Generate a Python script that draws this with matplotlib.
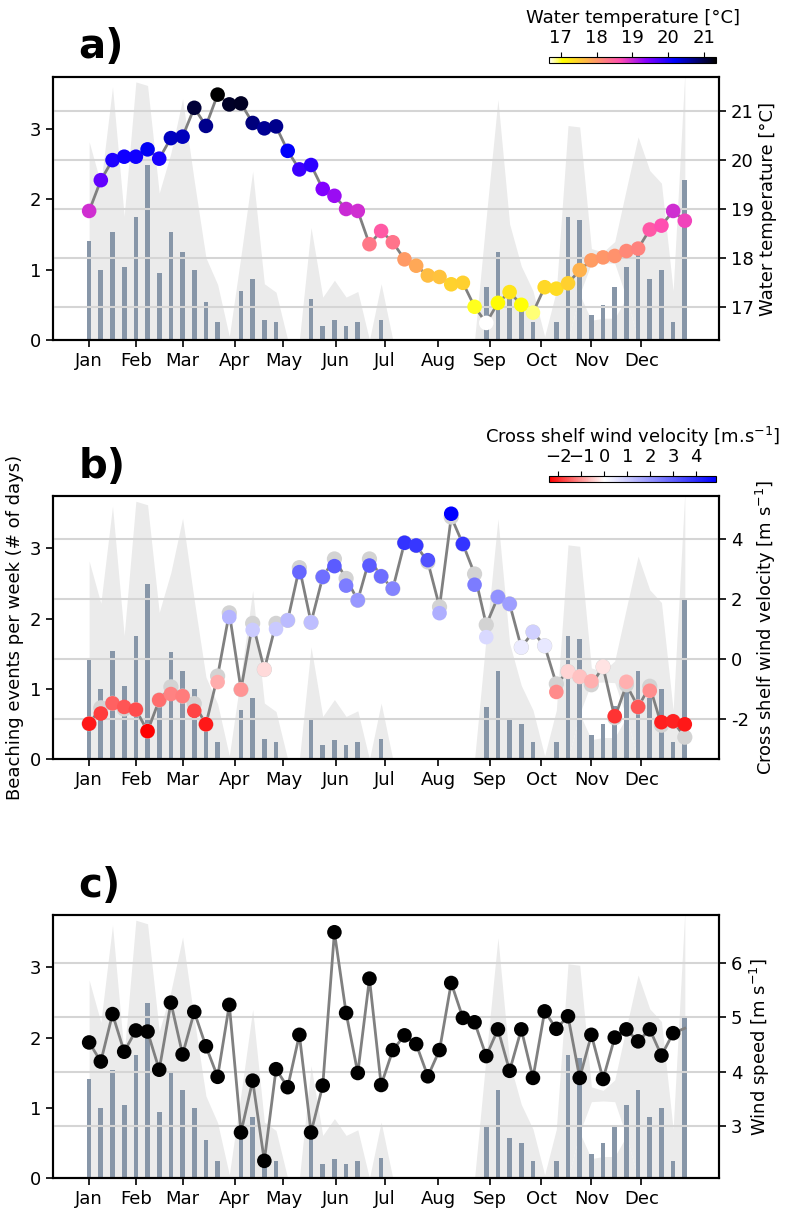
import numpy as np
import matplotlib
matplotlib.use("Agg")
import matplotlib.pyplot as plt
from matplotlib.colors import LinearSegmentedColormap, Normalize

plt.rcParams["font.size"] = 13

weeks = np.arange(1, 53)
month_labels = ["Jan", "Feb", "Mar", "Apr", "May", "Jun",
                "Jul", "Aug", "Sep", "Oct", "Nov", "Dec"]
month_pos = [1.0, 5.02, 9.0, 13.47, 17.64, 22.14, 26.31, 30.9, 35.32, 39.71, 44.0, 48.28]

# weekly beaching events (mean # of days)
events = [1.41, 1.00, 1.54, 1.04, 1.75, 2.49, 0.95, 1.53, 1.25, 1.00,
          0.54, 0.25, 0.00, 0.70, 0.87, 0.29, 0.25, 0.00, 0.00, 0.59,
          0.20, 0.28, 0.20, 0.25, 0.00, 0.29, 0.00, 0.00, 0.00, 0.00,
          0.00, 0.00, 0.00, 0.00, 0.75, 1.25, 0.58, 0.50, 0.25, 0.00,
          0.25, 1.75, 1.71, 0.35, 0.50, 0.76, 1.04, 1.25, 0.87, 1.00,
          0.25, 2.28]

# spread of the weekly events (grey envelope)
shade_hi = [2.82, 2.22, 3.60, 1.76, 3.67, 3.62, 2.09, 2.66, 3.43, 2.26,
            1.17, 0.79, 0.05, 1.20, 2.40, 0.80, 0.68, 0.00, 0.00, 1.60,
            0.61, 0.85, 0.61, 0.69, 0.00, 0.80, 0.00, 0.00, 0.00, 0.00,
            0.00, 0.00, 0.00, 0.00, 1.75, 3.42, 1.65, 1.05, 0.70, 0.05,
            0.70, 3.05, 3.03, 1.30, 1.25, 1.40, 2.15, 2.89, 2.41, 2.23,
            0.70, 3.80]
gap_lo = [0.0] * 42 + [0.65, 0.28, 0.31, 0.31, 0.60, 0.0, 0.0, 0.0, 0.0, 0.0]
gap_hi = [0.0] * 42 + [0.65, 1.09, 1.10, 1.09, 0.60, 0.0, 0.0, 0.0, 0.0, 0.0]

water_temp = [18.96, 19.59, 20.00, 20.07, 20.07, 20.22, 20.03, 20.45, 20.48, 21.07,
              20.70, 21.34, 21.14, 21.16, 20.76, 20.65, 20.69, 20.19, 19.81, 19.90,
              19.41, 19.27, 19.00, 18.96, 18.28, 18.55, 18.32, 17.97, 17.84, 17.64,
              17.61, 17.46, 17.49, 17.00, 16.67, 17.08, 17.30, 17.04, 16.88, 17.40,
              17.37, 17.48, 17.75, 17.95, 18.01, 18.04, 18.14, 18.19, 18.58, 18.66,
              18.96, 18.76]

xshelf_wind = [-2.15, -1.81, -1.47, -1.59, -1.68, -2.40, -1.36, -1.16, -1.23, -1.72,
               -2.17, -0.76, 1.41, -1.01, 0.98, -0.34, 1.01, 1.30, 2.91, 1.23,
               2.75, 3.11, 2.46, 1.97, 3.13, 2.77, 2.36, 3.89, 3.80, 3.31,
               1.54, 4.86, 3.85, 2.49, 0.74, 2.08, 1.85, 0.40, 0.91, 0.45,
               -1.09, -0.41, -0.58, -0.73, -0.25, -1.90, -0.75, -1.59, -1.05, -2.10,
               -2.07, -2.17]
xshelf_wind_line = [-2.15, -1.62, -1.47, -1.66, -1.68, -2.40, -1.36, -0.92, -1.23, -1.48,
                    -2.17, -0.56, 1.55, -1.01, 1.20, -0.34, 1.20, 1.30, 3.06, 1.23,
                    2.75, 3.35, 2.70, 1.97, 3.35, 2.77, 2.36, 3.89, 3.80, 3.25,
                    1.75, 4.75, 3.85, 2.85, 1.15, 2.08, 1.85, 0.40, 0.91, 0.45,
                    -0.82, -0.41, -0.58, -0.85, -0.25, -1.95, -0.85, -1.59, -0.90, -2.20,
                    -2.07, -2.60]

wind_speed = [4.54, 4.19, 5.06, 4.37, 4.76, 4.74, 4.04, 5.27, 4.32, 5.10,
              4.47, 3.91, 5.23, 2.89, 3.84, 2.37, 4.05, 3.72, 4.68, 2.89,
              3.75, 6.56, 5.08, 3.98, 5.71, 3.76, 4.40, 4.67, 4.51, 3.92,
              4.40, 5.63, 4.99, 4.91, 4.29, 4.78, 4.02, 4.78, 3.89, 5.11,
              4.79, 5.02, 3.89, 4.68, 3.87, 4.63, 4.78, 4.56, 4.78, 4.30,
              4.71, np.nan]
wind_speed_line = wind_speed[:-1] + [4.80]

fig = plt.figure(figsize=(7.86, 12.13), dpi=100)

ax_left = 0.0678
ax_w = 0.847
ax_h = 0.2168
bottoms = [0.7197, 0.374, 0.0286]


def base_panel(rect, letter):
    ax = fig.add_axes(rect)
    ax.fill_between(weeks, gap_hi, shade_hi, color="#ebebeb", lw=0)
    ax.fill_between(weeks, 0, gap_lo, color="#ebebeb", lw=0)
    ax.bar(weeks, events, width=0.4, color="#8796a8")
    ax.set_xlim(-2.07, 54.93)
    ax.set_ylim(0, 3.74)
    ax.set_yticks([0, 1, 2, 3])
    ax.set_xticks(month_pos)
    ax.set_xticklabels(month_labels)
    ax.text(0.0376, 1.071, letter, transform=ax.transAxes, fontsize=29,
            fontweight="bold", va="baseline")
    ax2 = ax.twinx()
    ax2.grid(axis="y", color="#d5d5d5", lw=1.5)
    for a in (ax, ax2):
        for sp in a.spines.values():
            sp.set_linewidth(1.5)
        a.tick_params(length=5, width=1.2)
    return ax, ax2


# a) water temperature
ax, ax2 = base_panel([ax_left, bottoms[0], ax_w, ax_h], "a)")
ax2.plot(weeks, water_temp, color="grey", lw=2, zorder=2)
sc = ax2.scatter(weeks, water_temp, c=water_temp, cmap="gnuplot2_r", s=110,
                 edgecolors="none", zorder=3)
ax2.set_ylim(16.32, 21.70)
ax2.set_yticks([17, 18, 19, 20, 21])
ax2.set_ylabel("Water temperature [°C]")
cax = fig.add_axes([0.6985, 0.9483, 0.2125, 0.005])
cb = fig.colorbar(sc, cax=cax, orientation="horizontal", ticks=[17, 18, 19, 20, 21])
cb.ax.xaxis.set_ticks_position("top")
cb.ax.xaxis.set_label_position("top")
cb.set_label("Water temperature [°C]")

# b) cross shelf wind
ax, ax2 = base_panel([ax_left, bottoms[1], ax_w, ax_h], "b)")
ax.set_ylabel("Beaching events per week (# of days)")
vmin, vmax = min(xshelf_wind), max(xshelf_wind)
mid = (0 - vmin) / (vmax - vmin)
rwb = LinearSegmentedColormap.from_list("rwb", [(0, (1, 0, 0)), (mid, (1, 1, 1)), (1, (0, 0, 1))])
ax2.plot(weeks, xshelf_wind_line, color="grey", lw=2, zorder=2)
ax2.scatter(weeks, xshelf_wind_line, color="#d3d3d3", s=120, edgecolors="none", zorder=2.5)
sc = ax2.scatter(weeks, xshelf_wind, c=xshelf_wind, cmap=rwb, norm=Normalize(vmin, vmax),
                 s=110, edgecolors="none", zorder=3)
ax2.set_ylim(-3.34, 5.44)
ax2.set_yticks([-2, 0, 2, 4])
ax2.set_yticklabels(["-2", "0", "2", "4"])
ax2.set_ylabel("Cross shelf wind velocity [m s$^{-1}$]")
cax = fig.add_axes([0.6985, 0.6026, 0.2125, 0.005])
cb = fig.colorbar(sc, cax=cax, orientation="horizontal", ticks=[-2, -1, 0, 1, 2, 3, 4])
cb.ax.xaxis.set_ticks_position("top")
cb.ax.xaxis.set_label_position("top")
cb.set_label("Cross shelf wind velocity [m.s$^{-1}$]")

# c) wind speed
ax, ax2 = base_panel([ax_left, bottoms[2], ax_w, ax_h], "c)")
ax2.plot(weeks, wind_speed_line, color="grey", lw=2, zorder=2)
ax2.scatter(weeks, wind_speed, color="black", s=110, edgecolors="none", zorder=3)
ax2.set_ylim(2.05, 6.87)
ax2.set_yticks([3, 4, 5, 6])
ax2.set_ylabel("Wind speed [m s$^{-1}$]")

fig.savefig("out.png", dpi=100)
